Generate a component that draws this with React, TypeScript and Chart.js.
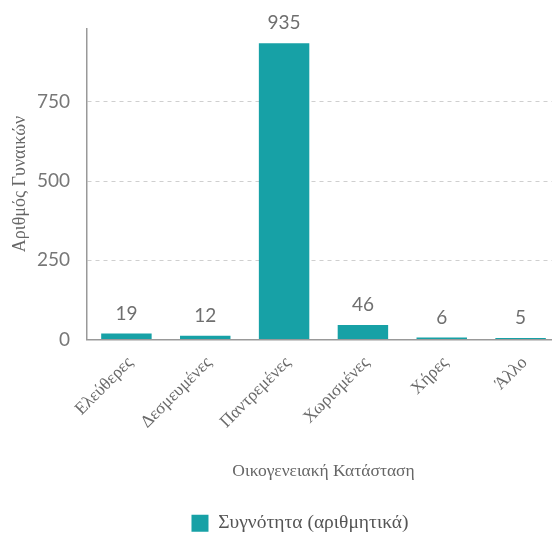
import React, { useEffect, useRef } from "react";
import { Chart, registerables } from "chart.js";

Chart.register(...registerables);

const categories = ["Ελεύθερες", "Δεσμευμένες", "Παντρεμένες", "Χωρισμένες", "Χήρες", "Άλλο"];
const counts = [19, 12, 935, 46, 6, 5];
const yTickValues = [0, 250, 500, 750];
const seriesLabel = "Συγνότητα (αριθμητικά)";
const yTitle = "Αριθμός Γυναικών";
const xTitle = "Οικογενειακή Κατάσταση";

const TEAL = "#17a1a6";
const SERIF = "'Liberation Serif', 'DejaVu Serif', serif";
const SANS = "Lato, 'Open Sans', sans-serif";
const LABEL_ANGLE = -Math.PI / 4;

const valueLabels = {
  id: "valueLabels",
  afterDatasetsDraw(chart: any) {
    const ctx = chart.ctx;
    const meta = chart.getDatasetMeta(0);
    ctx.save();
    ctx.font = `19px ${SANS}`;
    ctx.fillStyle = "#6f6f6f";
    ctx.textAlign = "center";
    ctx.textBaseline = "middle";
    meta.data.forEach((bar: any, i: number) => {
      ctx.fillText(String(chart.data.datasets[0].data[i]), bar.x, bar.y - 20);
    });
    ctx.restore();
  },
};

// category labels, rotated 45°, anchored on the x scale's own tick positions
const rotatedCategoryLabels = {
  id: "rotatedCategoryLabels",
  afterDraw(chart: any) {
    const ctx = chart.ctx;
    const xs = chart.scales.x;
    ctx.save();
    ctx.font = `17.5px ${SERIF}`;
    ctx.fillStyle = "#6a6a6a";
    ctx.textAlign = "right";
    ctx.textBaseline = "middle";
    xs.ticks.forEach((_t: any, i: number) => {
      const x = xs.getPixelForTick(i) + 4;
      const y = xs.top + 20.5;
      ctx.save();
      ctx.translate(x, y);
      ctx.rotate(LABEL_ANGLE);
      ctx.fillText(String(chart.data.labels[i]), 0, 0);
      ctx.restore();
    });
    ctx.restore();
  },
};

export default function App() {
  const ref = useRef<HTMLCanvasElement>(null);
  useEffect(() => {
    const chart = new Chart(ref.current!, {
      type: "bar",
      data: {
        labels: categories,
        datasets: [
          {
            label: seriesLabel,
            data: counts,
            backgroundColor: TEAL,
            borderWidth: 0,
            barPercentage: 0.8,
            categoryPercentage: 0.8,
          },
        ],
      },
      options: {
        animation: false,
        responsive: false,
        maintainAspectRatio: false,
        layout: { padding: { top: 27, left: 0, right: 0, bottom: -8 } },
        plugins: {
          tooltip: { enabled: false },
          legend: {
            position: "bottom",
            labels: {
              font: { family: SERIF, size: 19.5 },
              color: "#555",
              boxWidth: 17,
              boxHeight: 17,
              padding: 0,
            },
          },
        },
        scales: {
          x: {
            grid: { display: false, drawTicks: false },
            border: { color: "#999", width: 1.5 },
            ticks: { display: false },
            title: {
              display: true,
              text: xTitle,
              font: { family: SERIF, size: 17.5 },
              color: "#666",
              padding: { top: 0, bottom: 32 },
            },
            afterFit: (s: any) => {
              s.height = 174;
            },
          },
          y: {
            min: 0,
            max: 982,
            afterBuildTicks: (s: any) => {
              s.ticks = yTickValues.map((v) => ({ value: v }));
            },
            grid: {
              color: (c: any) => (c.tick && c.tick.value === 0 ? "rgba(0,0,0,0)" : "#cfcfcf"),
              drawTicks: false,
            },
            border: { color: "#999", width: 1.5, dash: [4, 4] } as any,
            ticks: {
              font: { family: SANS, size: 19 },
              color: "#777",
              padding: 17,
            },
            title: {
              display: true,
              text: yTitle,
              font: { family: SERIF, size: 18 },
              color: "#666",
              padding: { top: 9, bottom: 0 },
            },
            afterFit: (s: any) => {
              s.width = 87;
            },
          },
          y2: {
            position: "right",
            display: true,
            grid: { display: false },
            border: { display: false },
            ticks: { display: false },
            afterFit: (s: any) => {
              s.width = 40;
            },
          },
        },
      },
      plugins: [valueLabels, rotatedCategoryLabels],
    } as any);
    return () => chart.destroy();
  }, []);
  return (
    <div style={{ position: "fixed", left: 0, top: 0, width: 600, height: 535, background: "#fff" }}>
      <canvas ref={ref} width={600} height={535} style={{ width: 600, height: 535 }} />
    </div>
  );
}
